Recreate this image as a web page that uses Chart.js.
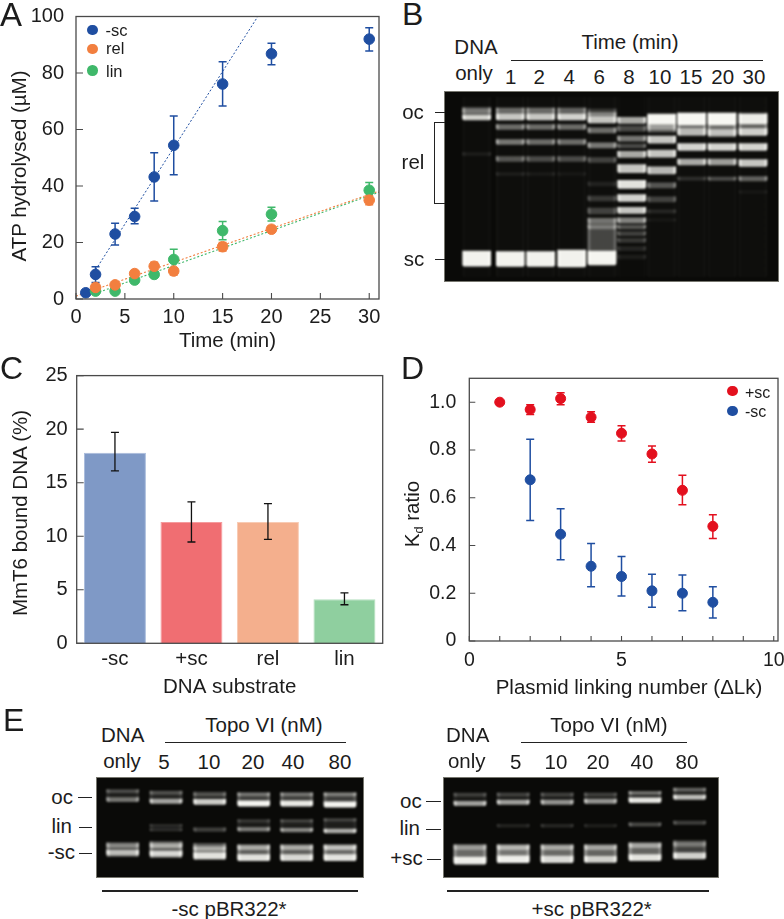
<!DOCTYPE html>
<html>
<head>
<meta charset="utf-8">
<title>Topo VI assays</title>
<script src="https://cdn.jsdelivr.net/npm/chart.js@4"></script>
<style>
body{margin:0;background:#fff;width:784px;height:919px;overflow:hidden;position:relative;font-family:"Liberation Sans",Arial,sans-serif;color:#1c1c1c}
canvas{position:absolute;left:0;top:0}
.box{position:absolute}
.gel{position:absolute;background:#0a0a08;outline:1px solid #77776f;overflow:hidden}
.gel canvas{filter:blur(1.1px)}
.t{position:absolute;white-space:nowrap;line-height:1}
.r{position:absolute;background:#222}
sub{font-size:62%;vertical-align:baseline;position:relative;top:.3em}
</style>
</head>
<body>
<script>
// panel A
var timeA=[1,2,4,6,8,10,15,20,30];
var scA=[2.2,8.7,23,29.2,43.2,54.4,76.1,86.8,92];
var scALow=[1.2,5.8,19.1,26.6,34.7,44,68.3,82.9,87.8];
var scAHigh=[3.2,11.4,26.8,32.1,51.8,64.8,84,90.5,96];
var timeB=[2,4,6,8,10,15,20,30];
var relA=[4.1,5,9,11.6,9.9,18.5,24.7,35];
var relALow=[3,4,8,10,8.5,17,24,33.4];
var relAHigh=[5.2,6,10,13,11,20,25.8,36.6];
var linA=[2.8,2.8,6.7,8.7,14,24.2,30,38.5];
var linALow=[2,2,5.7,7.7,11,21,27.6,36];
var linAHigh=[3.6,3.6,7.7,9.7,17.6,27.4,32.5,41.2];
var fitSc=[[2,10.3],[18.6,100]];
var fitRel=[[0,1],[31,38.2]];
var fitLin=[[2,2],[31,37.8]];
var xTicksA=[0,5,10,15,20,25,30];
var yTicksA=[0,20,40,60,80,100];

// panel C
var substrates=['-sc','+sc','rel','lin'];
var bound=[17.8,11.33,11.33,4.12];
var boundLow=[16.1,9.46,9.7,3.6];
var boundHigh=[19.7,13.2,13.05,4.7];
var yTicksC=[0,5,10,15,20,25];

// panel D
var lkPlus=[1,2,3,4,5,6,7,8];
var kdPlus=[1,.969,1.015,.937,.87,.783,.631,.48];
var kdPlusLow=[1,.948,.989,.916,.837,.748,.571,.429];
var kdPlusHigh=[1,.989,1.04,.96,.901,.817,.694,.529];
var lkMinus=[2,3,4,5,6,7,8];
var kdMinus=[.675,.447,.313,.27,.21,.2,.162];
var kdMinusLow=[.505,.34,.227,.188,.141,.127,.096];
var kdMinusHigh=[.845,.554,.408,.354,.279,.276,.227];
var xTicksD=[0,1,2,3,4,5,6,7,8,9,10];
var xLabelsD=[0,5,10];
var yTicksD=[0,.2,.4,.6,.8,1];

// gels: lane places along the gel, then for each lane its bands as [migration, half thickness, signal]
var gelBLanes=[31.7,65.3,95.7,126.7,157,186.7,216.7,246.7,277,308];
var gelB=[
 [[95,90,.025],[18.5,3,.4],[22,5,.3],[25.5,2.5,.85],[62,1.5,.1],[166.7,7.5,1]],
 [[95,90,.035],[19,3,.3],[25,3,.8],[22,6,.3],[35,2.5,.5],[50,2.5,.55],[67,2.5,.4],[82,1.5,.1],[167,7.5,1]],
 [[95,90,.035],[19,3,.3],[25,3,.8],[22,6,.3],[35,2.5,.5],[50,2.5,.5],[67,2.5,.35],[82,1.5,.08],[167,7.5,1]],
 [[95,90,.035],[19,3,.25],[25,3,.85],[22,6,.3],[35,2.5,.5],[50,2.5,.5],[67,2.5,.35],[82,1.5,.06],[166.5,8.5,1]],
 [[95,90,.035],[23,2.5,.5],[28,3,.8],[24,7,.25],[38.3,2.5,.5],[53.3,2.5,.55],[68,2.5,.3],[92,2,.12],[106.5,2.5,.25],[119,3,.3],[129,2.5,.35],[135,2,.4],[148,22,.32],[166,7,1]],
 [[95,90,.02],[28.3,3,.75],[36.7,2.5,.35],[46.7,2.5,.55],[54,2,.35],[62.3,3,.75],[76.7,4,.85],[92.3,4,.95],[106,3.5,.9],[118.3,3,.85],[128.3,2.5,.6],[135,2,.4],[141.7,2,.3],[148.3,2,.25],[156.7,2,.15],[165,2,.1]],
 [[95,90,.03],[27,5,1],[34.3,3,.5],[32,8,.45],[47.7,3.5,.85],[61.7,3.5,.85],[78.3,3.5,.8],[93.3,2.5,.4],[107.3,2.5,.3],[119.3,1.5,.15],[128,1,.07]],
 [[95,90,.03],[27,6,1],[32,11,.5],[40,3.5,.65],[55,3.5,.9],[70,3,.75],[86.7,1.5,.2]],
 [[95,90,.03],[27,6,1],[32,11,.5],[41,3.5,.7],[55,3.5,.9],[70,3,.7],[86.7,1.7,.35]],
 [[95,90,.03],[27,5,.95],[32,11,.45],[40,3.5,.8],[55,3.5,.9],[71,3.5,.85],[86.7,2.2,.45],[100,1.2,.06]]
];
var gelLeftLanes=[25.7,69,112.7,156.7,199.7,243];
var gelLeft=[
 [[13.3,1.5,.3],[21.7,2,.5],[17.5,6,.12],[68,2,.45],[75,2.5,.75],[72,7,.35]],
 [[15,1.5,.3],[23.3,2.2,.7],[19,6,.15],[48,1.5,.2],[52,1.2,.22],[68,2,.6],[76,2.5,.85],[72,8,.45]],
 [[16.5,1.5,.3],[24,2.5,.85],[20,6,.18],[52,1.8,.3],[71,2,.6],[78,3,.9],[74,8,.45]],
 [[16.5,1.5,.4],[25.7,2.7,1],[21,6,.3],[43,1.3,.2],[51.7,1.8,.55],[47,5,.1],[70,2,.6],[80,3,.9],[75,8,.45]],
 [[16.5,1.5,.4],[25.7,2.7,.95],[21,6,.3],[43,1.3,.25],[52.3,1.8,.6],[47,5,.12],[70,2,.6],[80,3,.85],[75,8,.45]],
 [[16.5,1.5,.45],[26.7,2.7,1],[21,6,.3],[42,1.3,.25],[53.3,2,.75],[47,6,.12],[70,2,.7],[80,3,.9],[75,8,.5]]
];
var gelRightLanes=[26,69.3,113.3,156.7,201.3,246];
var gelRight=[
 [[16.7,1.5,.25],[25.7,2.2,.7],[21,5,.1],[70,2,.45],[83,3.5,.95],[76,9,.5]],
 [[16.7,1.5,.25],[24.3,2.2,.7],[20,5,.1],[48,1.5,.15],[70,2,.6],[81.7,3.5,.95],[76,9,.55]],
 [[16.7,1.5,.25],[24.3,2.2,.65],[20,5,.1],[48,1.5,.18],[70,2,.55],[81.7,3.3,.85],[76,9,.5]],
 [[16.7,1.5,.25],[23.3,2.2,.65],[20,5,.1],[48,1.5,.13],[70,2,.55],[81.7,3,.8],[76,9,.48]],
 [[15,1.5,.45],[22.3,2.4,.95],[19,5,.18],[46.7,1.7,.35],[68,2,.55],[80,3,.9],[74,9,.48]],
 [[11.7,1.5,.4],[19.3,2.2,.8],[15.5,5,.15],[45,1.7,.3],[66.7,2,.4],[78.3,3,.85],[72,9,.32]]
];

var blue='#1f4ea1',orange='#f27f3f',green='#3fb86a',red='#e3101e';
var font='"Liberation Sans",Arial,sans-serif';
var labelSize=20.5;
Chart.defaults.animation=false;
Chart.defaults.font.family=font;
Chart.defaults.color='#1c1c1c';
Chart.defaults.plugins.legend.display=false;
Chart.defaults.plugins.tooltip.enabled=false;

function pts(xs,ys){return xs.map(function(x,i){return {x:x,y:ys[i]}})}
function fitPts(f){return f.map(function(p){return {x:p[0],y:p[1]}})}

function addCanvas(x,y,w,h,parent){
	var d=document.createElement('div');
	d.className='box';
	d.style.cssText='left:'+x+'px;top:'+y+'px;width:'+w+'px;height:'+h+'px';
	var c=document.createElement('canvas');
	c.width=w;c.height=h;
	d.appendChild(c);
	(parent||document.body).appendChild(d);
	return c;
}
function fixedTicks(list){return function(s){s.ticks=list.map(function(v){return {value:v}})}}
// pin an axis band to a set size and stop tick labels pushing the plot in
function pinX(h){return function(s){s.height=h;s.paddingLeft=0;s.paddingRight=0}}
function pinY(w){return function(s){s.width=w;s.paddingTop=0;s.paddingBottom=0}}

function drawErrors(chart){
	var o=chart.options.plugins.frame||{};
	(o.errors||[]).forEach(function(e){
		var c=chart.ctx,ys=chart.scales.y,xs=chart.scales.x;
		c.save();c.strokeStyle=e.color;c.lineWidth=e.width||1.5;
		e.x.forEach(function(x,i){
			if(e.low[i]===e.high[i])return;
			var px=xs.getPixelForValue(x),lo=ys.getPixelForValue(e.low[i]),hi=ys.getPixelForValue(e.high[i]);
			c.beginPath();
			c.moveTo(px,lo);c.lineTo(px,hi);
			c.moveTo(px-4,lo);c.lineTo(px+4,lo);
			c.moveTo(px-4,hi);c.lineTo(px+4,hi);
			c.stroke();
		});
		c.restore();
	});
}

// inner tick marks, plot frame and error bars, all through the chart scales
var framePlugin={
	id:'frame',
	beforeDatasetsDraw:function(chart){
		if(!chart.options.plugins.frame.onTop)drawErrors(chart);
	},
	afterDatasetsDraw:function(chart){
		if(chart.options.plugins.frame.onTop)drawErrors(chart);
	},
	afterDraw:function(chart){
		var a=chart.chartArea,c=chart.ctx,o=chart.options.plugins.frame||{};
		c.save();c.strokeStyle='#4a4a4a';c.lineWidth=1.3;
		c.strokeRect(a.left,a.top,a.right-a.left,a.bottom-a.top);
		c.lineWidth=1.1;c.beginPath();
		if(o.xTicks)chart.scales.x.ticks.forEach(function(t){
			var p=chart.scales.x.getPixelForValue(t.value);
			c.moveTo(p,a.bottom);c.lineTo(p,a.bottom-o.xTicks);
		});
		chart.scales.y.ticks.forEach(function(t){
			var p=chart.scales.y.getPixelForValue(t.value);
			c.moveTo(a.left,p);c.lineTo(a.left+(o.yTicks||7),p);
		});
		c.stroke();c.restore();
	}
};
var noGrid={display:false,tickLength:0};

// panel A
new Chart(addCanvas(0,0,400,354),{
	type:'scatter',
	plugins:[framePlugin],
	data:{datasets:[
		{label:'rel',data:pts(timeB,relA),backgroundColor:orange,borderColor:orange,pointRadius:5.3,order:1,clip:false},
		{label:'lin',data:pts(timeB,linA),backgroundColor:green,borderColor:green,pointRadius:5.3,order:2,clip:false},
		{label:'-sc',data:pts(timeA,scA),backgroundColor:blue,borderColor:blue,pointRadius:5.3,order:3,clip:false},
		{label:'-sc fit',data:fitPts(fitSc),showLine:true,borderColor:blue,borderWidth:1,borderDash:[2,2],pointRadius:0,order:4},
		{label:'rel fit',data:fitPts(fitRel),showLine:true,borderColor:orange,borderWidth:1.1,borderDash:[2,2],pointRadius:0,order:5},
		{label:'lin fit',data:fitPts(fitLin),showLine:true,borderColor:green,borderWidth:1.1,borderDash:[2,2],pointRadius:0,order:6}
	]},
	options:{
		responsive:false,
		layout:{padding:{top:16.5,right:21}},
		plugins:{frame:{xTicks:6,yTicks:7,errors:[
			{x:timeB,low:linALow,high:linAHigh,color:green},
			{x:timeB,low:relALow,high:relAHigh,color:orange},
			{x:timeA,low:scALow,high:scAHigh,color:blue}
		]}},
		scales:{
			x:{type:'linear',min:0,max:31,grid:noGrid,border:{display:false},afterBuildTicks:fixedTicks(xTicksA),
				afterFit:pinX(55),
				ticks:{font:{size:20},padding:6,maxRotation:0,callback:function(v){return v}},
				title:{display:true,text:'Time (min)',font:{size:labelSize},padding:{top:0,bottom:0}}},
			y:{min:0,max:100,grid:noGrid,border:{display:false},afterBuildTicks:fixedTicks(yTicksA),
				afterFit:pinY(76),
				ticks:{font:{size:20},padding:12,callback:function(v){return v}}}
		}
	}
});

// panel C
new Chart(addCanvas(0,350,400,350),{
	type:'bar',
	plugins:[framePlugin],
	data:{labels:substrates,datasets:[{label:'MmT6 bound DNA',data:bound,
		backgroundColor:['#7f99c6','#f06e72','#f4af8d','#8fcf9f'],
		borderColor:['#a9bcdc','#f59b9d','#f8cbb4','#b5e0bf'],borderWidth:1,
		barPercentage:.81,categoryPercentage:1}]},
	options:{
		responsive:false,
		layout:{padding:{top:25.6,right:17.3}},
		plugins:{frame:{yTicks:7,onTop:true,errors:[{x:[0,1,2,3],low:boundLow,high:boundHigh,color:'#111',width:1.3}]}},
		scales:{
			x:{grid:noGrid,border:{display:false},
				afterFit:pinX(56.7),
				ticks:{font:{size:labelSize},padding:4},
				title:{display:true,text:'DNA substrate',font:{size:labelSize},padding:{top:0,bottom:0}}},
			y:{min:0,max:25,grid:noGrid,border:{display:false},afterBuildTicks:fixedTicks(yTicksC),
				afterFit:pinY(76.7),
				ticks:{font:{size:20},padding:9,callback:function(v){return v}}}
		}
	}
});

// panel D
new Chart(addCanvas(400,350,384,350),{
	type:'scatter',
	plugins:[framePlugin],
	data:{datasets:[
		{label:'+sc',data:pts(lkPlus,kdPlus),backgroundColor:red,borderColor:red,pointRadius:5,clip:false},
		{label:'-sc',data:pts(lkMinus,kdMinus),backgroundColor:blue,borderColor:blue,pointRadius:5,clip:false}
	]},
	options:{
		responsive:false,
		layout:{padding:{top:28.3,right:5.7}},
		plugins:{frame:{xTicks:5,yTicks:6,errors:[
			{x:lkPlus,low:kdPlusLow,high:kdPlusHigh,color:red},
			{x:lkMinus,low:kdMinusLow,high:kdMinusHigh,color:blue}
		]}},
		scales:{
			x:{type:'linear',min:0,max:10.14,grid:noGrid,border:{display:false},afterBuildTicks:fixedTicks(xTicksD),
				afterFit:pinX(59),
				ticks:{font:{size:19.5},padding:8,autoSkip:false,maxRotation:0,callback:function(v){return xLabelsD.indexOf(v)>=0?v:''}}},
			y:{min:0,max:1.1,grid:noGrid,border:{display:false},afterBuildTicks:fixedTicks(yTicksD),
				afterFit:pinY(69.3),
				ticks:{font:{size:19.5},padding:13,callback:function(v){return v===0?'0':v.toFixed(1)}}}
		}
	}
});

// gels are floating bars on a migration scale, one bar per band
function gelChart(x,y,w,h,places,lanes,thick,edge){
	var gel=document.createElement('div');
	gel.className='gel';
	gel.style.cssText='left:'+x+'px;top:'+y+'px;width:'+w+'px;height:'+h+'px';
	document.body.appendChild(gel);
	var canvas=addCanvas(0,0,w,h,gel);
	var most=Math.max.apply(null,lanes.map(function(l){return l.length}));
	var sets=[];
	for(var b=0;b<most;b++){
		(function(b){
			sets.push({
				label:'band '+(b+1),
				data:lanes.map(function(l,i){return l[b]?{x:places[i],y:[l[b][0]-l[b][1],l[b][0]+l[b][1]]}:null}).filter(Boolean),
				barThickness:thick,grouped:false,borderWidth:0,borderRadius:2,
				backgroundColor:function(ctx){
					var raw=ctx.raw,area=ctx.chart.chartArea;
					if(!raw||!area)return 'transparent';
					var i=places.indexOf(raw.x),band=lanes[i][b];
					var c=area.left+raw.x,half=thick/2,s=band[2];
					var g=ctx.chart.ctx.createLinearGradient(c-half,0,c+half,0);
					var rim='rgba(255,255,250,'+Math.min(1,s*edge)+')';
					var mid='rgba(255,255,250,'+s*(.6+.35*s)+')';
					g.addColorStop(0,rim);g.addColorStop(.12,mid);g.addColorStop(.88,mid);g.addColorStop(1,rim);
					return g;
				}
			});
		})(b);
	}
	new Chart(canvas,{
		type:'bar',
		data:{datasets:sets},
		options:{
			responsive:false,
			scales:{
				x:{type:'linear',display:false,offset:false,min:0,max:w},
				y:{display:false,reverse:true,min:0,max:h}
			}
		}
	});
}
gelChart(445,92,333,189,gelBLanes,gelB,28,1.4);
gelChart(97,778,266,98.5,gelLeftLanes,gelLeft,32,1.3);
gelChart(444,778,273.5,98.5,gelRightLanes,gelRight,32,1.3);

// text and rules round the panels
function txt(s,x,y,size,align,rot){
	var e=document.createElement('div');
	e.className='t';
	e.innerHTML=s;
	var tx=align==='r'?'-100%':(align==='l'?'0':'-50%');
	e.style.cssText='left:'+x+'px;top:'+y+'px;font-size:'+size+'px;transform:translate('+tx+',-50%)'+(rot?' rotate(-90deg)':'');
	document.body.appendChild(e);
}
function rule(x1,y1,x2,y2,w){
	var e=document.createElement('div');
	e.className='r';
	e.style.cssText='left:'+x1+'px;top:'+y1+'px;width:'+Math.max(x2-x1,w)+'px;height:'+Math.max(y2-y1,w)+'px';
	document.body.appendChild(e);
}
function dot(x,y,c){
	var e=document.createElement('div');
	e.style.cssText='position:absolute;border-radius:50%;width:10.5px;height:10.5px;background:'+c+';left:'+(x-5.25)+'px;top:'+(y-5.25)+'px';
	document.body.appendChild(e);
}
txt('A',0,14,33,'l');txt('B',402,14,32,'l');txt('C',0,368,32,'l');txt('D',401,368,32,'l');txt('E',3,720,32,'l');

txt('ATP hydrolysed (µM)',18.5,166,labelSize,'c',true);
txt('MmT6 bound DNA (%)',20,513,labelSize,'c',true);
txt('K<sub>d</sub> ratio',411.5,514,labelSize,'c',true);
txt('Plasmid linking number (ΔLk)',629,687,labelSize);

dot(92.7,30,blue);dot(92.7,49,orange);dot(92.7,70.5,green);
txt('-sc',105.5,30,16.5,'l');txt('rel',106,48,16.5,'l');txt('lin',106,70.5,16.5,'l');
dot(732.7,391,red);dot(732.7,411,blue);
txt('+sc',745,393,16,'l');txt('-sc',745,412,16,'l');

txt('Time (min)',630,42,labelSize);rule(510.7,60,763,60,1.2);
txt('DNA',476,47,labelSize);txt('only',474,73,labelSize);
var numsB=['1','2','4','6','8','10','15','20','30'],numsBX=[510.7,539.3,569.3,599.3,629,660,691,722.7,754];
numsB.forEach(function(n,i){txt(n,numsBX[i],77,labelSize)});
txt('oc',413,112,labelSize);txt('rel',413,162,labelSize);txt('sc',414,259,labelSize);
rule(435,112,445,112,1.2);rule(435,259,445,259,1.2);
rule(434,121.5,434,203.5,1.2);rule(434,121.5,445,121.5,1.2);rule(434,203,445,203,1.2);

txt('Topo VI (nM)',264,725,labelSize);rule(165,741.5,345.7,741.5,1.6);
txt('DNA',122.7,735,labelSize);txt('only',122,761,labelSize);
var numsE=['5','10','20','40','80'],numsLX=[164,209,253,293,340],numsRX=[515.7,556,598,642,687];
numsE.forEach(function(n,i){txt(n,numsLX[i],761.7,labelSize)});
txt('oc',73,796.7,labelSize,'r');txt('lin',72,826,labelSize,'r');txt('-sc',75,852,labelSize,'r');
rule(77.7,796.7,91.7,796.7,1.4);rule(79,826.7,92,826.7,1.4);rule(79,852.5,92,852.5,1.4);
rule(102,890,357.7,890,1.6);txt('-sc pBR322*',229,909.3,labelSize);

txt('Topo VI (nM)',609,725,labelSize);rule(521,741.5,687.3,741.5,1.6);
txt('DNA',467.7,735,labelSize);txt('only',466.7,761,labelSize);
numsE.forEach(function(n,i){txt(n,numsRX[i],762,labelSize)});
txt('oc',421.7,800.7,labelSize,'r');txt('lin',420,827.7,labelSize,'r');txt('+sc',422.7,858,labelSize,'r');
rule(426,800.7,440.7,800.7,1.4);rule(426,829,440.7,829,1.4);rule(426.7,858.5,441,858.5,1.4);
rule(447.3,890,709.3,890,1.6);txt('+sc pBR322*',591.7,909.3,labelSize);
</script>
</body>
</html>
